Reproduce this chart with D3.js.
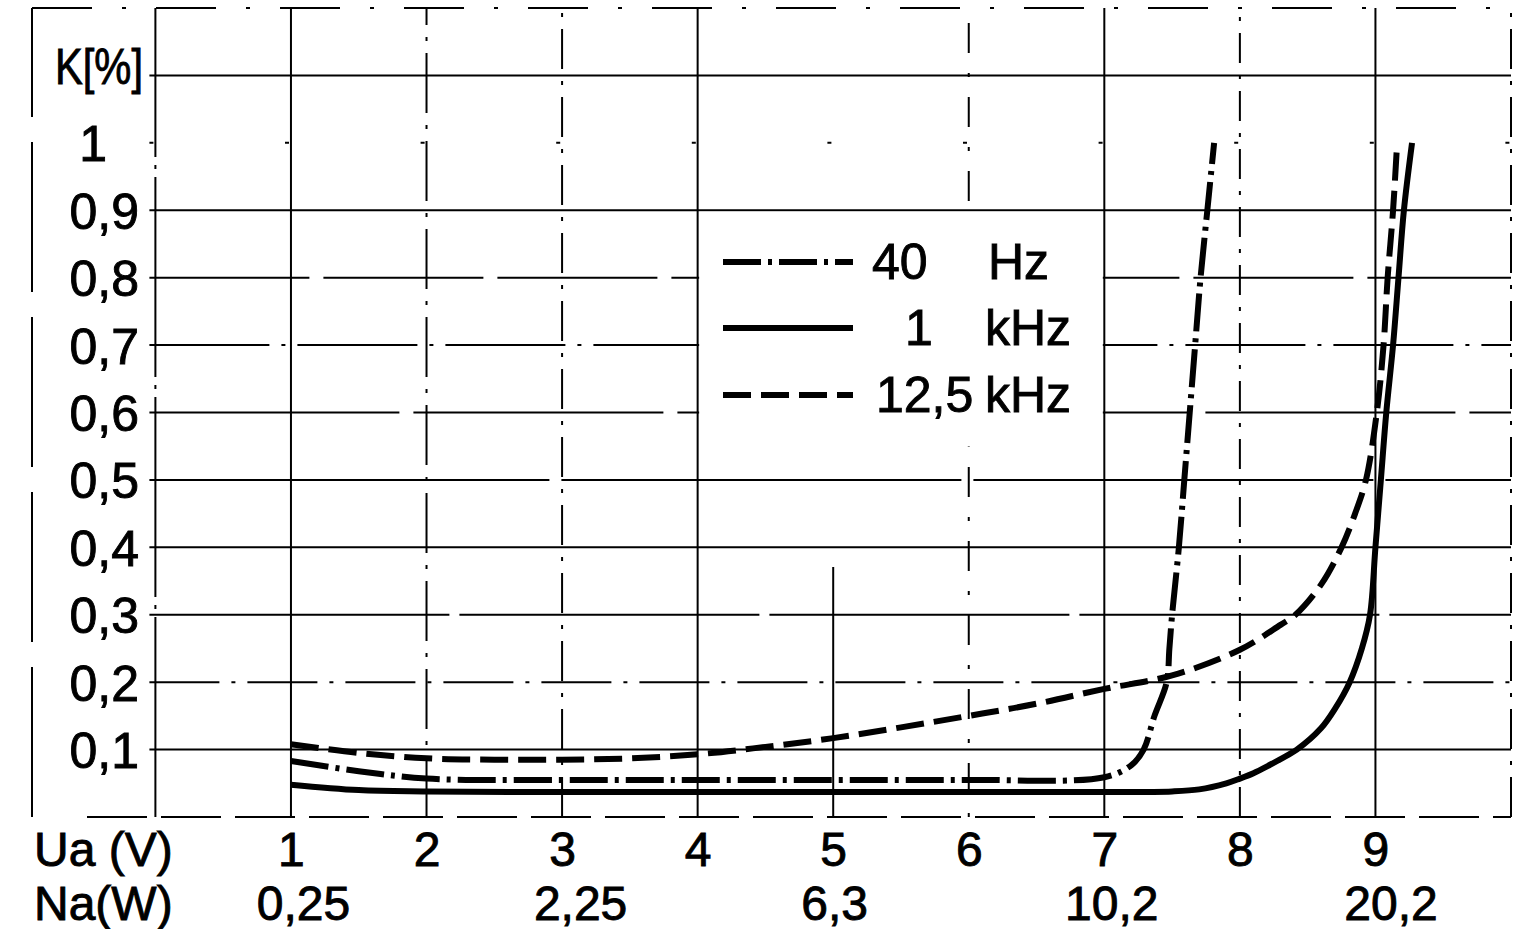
<!DOCTYPE html>
<html>
<head>
<meta charset="utf-8">
<script src="https://cdn.jsdelivr.net/npm/d3@7"></script>
<style>
  body { margin: 0; background: #fff; }
  svg text { font-family: "Liberation Sans", Arial, sans-serif; fill: #000; stroke: #000; stroke-width: 0.9px; }
</style>
</head>
<body>
<svg id="chart" width="1521" height="929"></svg>
<script>
// Axis ticks and labels
const uaTicks = [1, 2, 3, 4, 5, 6, 7, 8, 9];
const naTicks = [1, 3, 5, 7, 9];
const naLabels = ["0,25", "2,25", "6,3", "10,2", "20,2"];
const kTicks = [0.1, 0.2, 0.3, 0.4, 0.5, 0.6, 0.7, 0.8, 0.9, 1.0, 1.1];
const kLabels = ["0,1", "0,2", "0,3", "0,4", "0,5", "0,6", "0,7", "0,8", "0,9", "1", "K[%]"];

// grid positions
const gridUa = [0, 1, 2, 3, 4, 5, 6, 7, 8, 9, 10];
const gridK = [0, 0.1, 0.2, 0.3, 0.4, 0.5, 0.6, 0.7, 0.8, 0.9, 1.0, 1.1, 1.2];

// 40 Hz (dash-dot)
const ua40 = [1, 1.5, 2, 3, 4, 5, 6, 7, 7.2, 7.29, 7.37, 7.46, 7.48, 7.5, 7.55, 7.59, 7.63, 7.67, 7.71, 7.76, 7.81];
const k40 = [0.083, 0.068, 0.057, 0.055, 0.055, 0.055, 0.055, 0.059, 0.077, 0.1, 0.15, 0.2, 0.25, 0.3, 0.4, 0.5, 0.6, 0.7, 0.8, 0.9, 1.0];

// 1 kHz (solid)
const ua1k = [1, 1.5, 2, 3, 4, 5, 6, 7, 7.5, 7.7, 7.9, 8.0, 8.1, 8.2, 8.3, 8.42, 8.6, 8.7, 8.81, 8.9, 8.96, 9.0, 9.04, 9.08, 9.13, 9.17, 9.21, 9.27];
const k1k = [0.048, 0.04, 0.038, 0.037, 0.037, 0.037, 0.037, 0.037, 0.038, 0.041, 0.05, 0.057, 0.065, 0.075, 0.086, 0.1, 0.132, 0.16, 0.2, 0.25, 0.3, 0.4, 0.5, 0.6, 0.7, 0.8, 0.9, 1.0];

// 12,5 kHz (dashed)
const ua125 = [1, 1.5, 2, 2.5, 3, 3.5, 4, 4.5, 5, 5.5, 6, 6.5, 7, 7.5, 8, 8.3, 8.41, 8.6, 8.75, 8.85, 8.93, 9.01, 9.06, 9.09, 9.13, 9.16];
const k125 = [0.108, 0.095, 0.087, 0.085, 0.085, 0.087, 0.093, 0.104, 0.117, 0.133, 0.15, 0.168, 0.19, 0.21, 0.248, 0.285, 0.3, 0.345, 0.4, 0.45, 0.5, 0.6, 0.7, 0.8, 0.9, 1.0];

const legendNums = ["40", "1", "12,5"];
const legendUnits = ["Hz", "kHz", "kHz"];

// line styles (scanned look)
const dash40 = "38,7,4,7";
const dash125 = "28,10";
const hGridDash = ["60,14", null, "70,12,4,12", "300,10", null, "400,12", "250,14", "120,12,4,12", "160,14", null, "4,131.6", null, "60,30,4,30"];
const vGridDash = ["200,8,4,8", null, "60,12,4,12", "40,12,4,12", null, "250,1000", "4,20,30,20", null, "30,12,4,12", null, "40,12,4,12"];

const svg = d3.select("#chart");
svg.append("rect").attr("width", 1521).attr("height", 929).attr("fill", "#fff");

const x = d3.scaleLinear().domain([0, 10]).range([155.4, 1511]);
const y = d3.scaleLinear().domain([0, 1.2]).range([817, 8]);

// outer frame on the left
svg.append("line")
  .attr("x1", 32).attr("x2", 32)
  .attr("y1", y(0)).attr("y2", y(1.2))
  .attr("stroke", "#000").attr("stroke-width", 2)
  .attr("stroke-dasharray", "150,25");

// horizontal grid
svg.append("g").selectAll("line")
  .data(gridK)
  .enter().append("line")
  .attr("x1", (d, i) => i === 0 ? 87 : (i === gridK.length - 1 ? 32 : x(0) - 6))
  .attr("x2", x(10))
  .attr("y1", d => y(d)).attr("y2", d => y(d))
  .attr("stroke", "#000").attr("stroke-width", 2)
  .attr("stroke-dasharray", (d, i) => hGridDash[i]);

// vertical grid (drawn bottom -> top)
svg.append("g").selectAll("line")
  .data(gridUa)
  .enter().append("line")
  .attr("x1", d => x(d)).attr("x2", d => x(d))
  .attr("y1", y(0)).attr("y2", y(1.2))
  .attr("stroke", "#000").attr("stroke-width", 2)
  .attr("stroke-dasharray", (d, i) => vGridDash[i]);

// legend panel blanks the grid between Ua 4..7, below K 0,9
svg.append("rect")
  .attr("x", x(4) + 1.5).attr("y", y(0.9) + 1.5)
  .attr("width", x(7) - x(4) - 3).attr("height", 445 - y(0.9))
  .attr("fill", "#fff");

// curves
const line = d3.line()
  .x(d => x(d[0]))
  .y(d => y(d[1]))
  .curve(d3.curveCatmullRom.alpha(0.5));

const series = [
  { ua: ua40, k: k40, dash: dash40 },
  { ua: ua1k, k: k1k, dash: null },
  { ua: ua125, k: k125, dash: dash125 }
];

series.forEach(s => {
  svg.append("path")
    .datum(d3.zip(s.ua, s.k))
    .attr("d", line)
    .attr("fill", "none")
    .attr("stroke", "#000")
    .attr("stroke-width", 6)
    .attr("stroke-dasharray", s.dash);
});

// x axis: Ua(V)
const xAxis = svg.append("g")
  .attr("transform", "translate(0,866)")
  .call(d3.axisBottom(x).tickValues(uaTicks).tickFormat(d => d).tickSize(0).tickPadding(0));
xAxis.select(".domain").remove();
xAxis.attr("font-size", 48).attr("font-family", null);
xAxis.selectAll("text").attr("y", 0).attr("dy", 0);

// second row: Na(W), labels sit a little right of their gridline
const naOffsets = [12, 18, 1, 7, 15];
const naAxis = svg.append("g")
  .attr("transform", "translate(0,920)")
  .call(d3.axisBottom(x).tickValues(naTicks).tickFormat((d, i) => naLabels[i]).tickSize(0).tickPadding(0));
naAxis.select(".domain").remove();
naAxis.attr("font-size", 48).attr("font-family", null);
naAxis.selectAll("text").attr("y", 0).attr("dy", 0).attr("dx", (d, i) => naOffsets[i]);

svg.append("text").attr("x", 34).attr("y", 866).attr("font-size", 48).text("Ua (V)");
svg.append("text").attr("x", 34).attr("y", 920).attr("font-size", 48).text("Na(W)");

// y axis: K[%]
const yAxis = svg.append("g")
  .attr("transform", "translate(139,0)")
  .call(d3.axisLeft(y).tickValues(kTicks).tickFormat((d, i) => kLabels[i]).tickSize(0).tickPadding(0));
yAxis.select(".domain").remove();
yAxis.attr("font-size", 50).attr("font-family", null);
yAxis.selectAll("text")
  .attr("dx", (d, i) => kLabels[i] === "1" ? -32 : (kLabels[i] === "K[%]" ? 4 : 0))
  .attr("dy", (d, i) => kLabels[i] === "K[%]" ? "0.16em" : "0.36em")
  .filter((d, i) => kLabels[i] === "K[%]")
  .attr("textLength", 88)
  .attr("lengthAdjust", "spacingAndGlyphs");

// legend
const legendDash = [dash40, null, dash125];
const legendY = [262, 328, 395];
const numX = [872, 905, 876];
const unitX = [988, 985, 985];

const legend = svg.append("g");
legendNums.forEach((n, i) => {
  legend.append("line")
    .attr("x1", 723).attr("x2", 853)
    .attr("y1", legendY[i]).attr("y2", legendY[i])
    .attr("stroke", "#000").attr("stroke-width", 6)
    .attr("stroke-dasharray", legendDash[i]);
  legend.append("text")
    .attr("x", numX[i]).attr("y", legendY[i] + 17)
    .attr("font-size", 50)
    .text(n);
  legend.append("text")
    .attr("x", unitX[i]).attr("y", legendY[i] + 17)
    .attr("font-size", 50)
    .text(legendUnits[i]);
});
</script>
</body>
</html>
